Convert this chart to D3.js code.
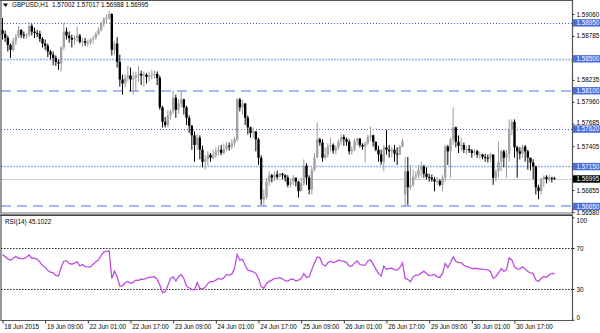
<!DOCTYPE html>
<html><head><meta charset="utf-8">
<script src="https://cdn.jsdelivr.net/npm/d3@7"></script>
<style>body{margin:0;background:#fff}svg{display:block}text{font-family:"Liberation Sans",Arial,sans-serif}</style>
</head><body><svg id="c" width="600" height="333"></svg>
<script>
const opens=[1.5886,
1.5881,1.5876,1.5867,1.5861,1.5872,1.5877,1.5886,1.5880,1.5879,1.5880,
1.5891,1.5884,1.5882,1.5881,1.5875,1.5869,1.5866,1.5859,1.5855,1.5851,
1.5846,1.5844,1.5864,1.5884,1.5879,1.5876,1.5874,1.5876,1.5879,1.5871,
1.5872,1.5870,1.5870,1.5874,1.5876,1.5881,1.5886,1.5894,1.5900,1.5901,
1.5906,1.5861,1.5869,1.5846,1.5824,1.5819,1.5826,1.5829,1.5824,1.5826,
1.5829,1.5831,1.5829,1.5830,1.5827,1.5829,1.5830,1.5831,1.5826,1.5789,
1.5771,1.5767,1.5779,1.5784,1.5801,1.5786,1.5794,1.5799,1.5789,1.5776,
1.5766,1.5754,1.5742,1.5751,1.5736,1.5721,1.5724,1.5730,1.5726,1.5729,
1.5734,1.5736,1.5732,1.5737,1.5741,1.5740,1.5744,1.5749,1.5799,1.5789,
1.5794,1.5776,1.5764,1.5757,1.5759,1.5749,1.5726,1.5674,1.5677,1.5696,
1.5704,1.5701,1.5705,1.5702,1.5706,1.5704,1.5701,1.5692,1.5696,1.5701,
1.5696,1.5684,1.5694,1.5716,1.5701,1.5686,1.5711,1.5726,1.5749,1.5745,
1.5726,1.5730,1.5740,1.5742,1.5735,1.5739,1.5746,1.5752,1.5749,1.5746,
1.5734,1.5736,1.5747,1.5750,1.5742,1.5740,1.5744,1.5752,1.5754,1.5746,
1.5736,1.5730,1.5721,1.5739,1.5736,1.5734,1.5736,1.5731,1.5730,1.5740,
1.5680,
1.5709,1.5689,1.5692,1.5702,1.5704,1.5711,1.5715,1.5706,1.5702,1.5701,
1.5699,1.5696,1.5697,1.5692,1.5701,1.5740,1.5734,1.5749,1.5764,1.5746,
1.5741,1.5742,1.5736,1.5737,1.5735,1.5732,1.5734,1.5730,1.5730,1.5727,
1.5726,1.5725,1.5730,1.5701,1.5709,1.5721,1.5734,1.5726,1.5731,1.5761,
1.5771,1.5739,1.5734,1.5731,1.5740,1.5734,1.5726,1.5720,1.5715,1.5689,
1.5684,1.5699,1.5702,1.5699,1.5701,
1.57002];
const highs=[
1.5901,1.5885,1.5879,1.5869,1.5876,1.5881,1.5891,1.5887,1.5884,1.5882,
1.5896,1.5894,1.5889,1.5886,1.5885,1.5877,1.5874,1.5869,1.5861,1.5859,
1.5854,1.5849,1.5866,1.5895,1.5889,1.5884,1.5880,1.5879,1.5890,1.5881,
1.5876,1.5876,1.5874,1.5876,1.5879,1.5884,1.5889,1.5896,1.5902,1.5906,
1.5910,1.5907,1.5872,1.5877,1.5855,1.5830,1.5830,1.5841,1.5839,1.5834,
1.5834,1.5841,1.5835,1.5834,1.5832,1.5834,1.5836,1.5835,1.5834,1.5829,
1.5791,1.5777,1.5786,1.5786,1.5811,1.5805,1.5799,1.5809,1.5800,1.5791,
1.5779,1.5767,1.5759,1.5756,1.5754,1.5741,1.5729,1.5734,1.5732,1.5736,
1.5739,1.5741,1.5742,1.5744,1.5746,1.5745,1.5749,1.5752,1.5801,1.5801,
1.5799,1.5794,1.5779,1.5765,1.5764,1.5759,1.5751,1.5729,1.5686,1.5701,
1.5709,1.5706,1.5709,1.5710,1.5707,1.5707,1.5705,1.5704,1.5700,1.5704,
1.5701,1.5697,1.5701,1.5724,1.5719,1.5704,1.5714,1.5732,1.5770,1.5751,
1.5749,1.5739,1.5744,1.5751,1.5744,1.5741,1.5749,1.5756,1.5755,1.5751,
1.5749,1.5740,1.5750,1.5751,1.5750,1.5744,1.5746,1.5755,1.5765,1.5755,
1.5746,1.5741,1.5736,1.5742,1.5761,1.5742,1.5740,1.5742,1.5739,1.5742,
1.5750,1.5727,1.5727,1.5717,1.5711,1.5709,1.5717,1.5721,1.5717,1.5714,
1.5706,1.5705,1.5702,1.5702,1.5699,1.5704,1.5742,1.5742,1.5751,1.5789,
1.5765,1.5754,1.5751,1.5745,1.5741,1.5742,1.5737,1.5737,1.5736,1.5734,
1.5731,1.5731,1.5730,1.5732,1.5730,1.5711,1.5746,1.5736,1.5736,1.5736,
1.5774,1.5774,1.5774,1.5741,1.5739,1.5742,1.5742,1.5736,1.5726,1.5724,
1.5716,1.5692,1.5701,1.5704,1.5704,1.5704,1.5702,1.57017];
const lows=[
1.5874,1.5871,1.5859,1.5851,1.5859,1.5867,1.5876,1.5876,1.5875,1.5875,
1.5877,1.5879,1.5876,1.5877,1.5871,1.5864,1.5861,1.5852,1.5849,1.5842,
1.5841,1.5836,1.5834,1.5861,1.5874,1.5870,1.5864,1.5867,1.5871,1.5869,
1.5865,1.5866,1.5865,1.5867,1.5869,1.5874,1.5879,1.5884,1.5890,1.5894,
1.5899,1.5854,1.5855,1.5839,1.5815,1.5805,1.5814,1.5821,1.5809,1.5805,
1.5809,1.5821,1.5817,1.5815,1.5819,1.5821,1.5824,1.5825,1.5817,1.5786,
1.5764,1.5764,1.5764,1.5774,1.5781,1.5776,1.5781,1.5789,1.5780,1.5767,
1.5757,1.5736,1.5721,1.5736,1.5724,1.5714,1.5711,1.5716,1.5721,1.5724,
1.5726,1.5729,1.5729,1.5730,1.5734,1.5735,1.5737,1.5740,1.5746,1.5784,
1.5780,1.5767,1.5755,1.5751,1.5751,1.5734,1.5717,1.5667,1.5666,1.5674,
1.5691,1.5695,1.5697,1.5699,1.5701,1.5699,1.5696,1.5689,1.5689,1.5692,
1.5690,1.5676,1.5684,1.5691,1.5692,1.5680,1.5680,1.5709,1.5726,1.5741,
1.5721,1.5724,1.5726,1.5734,1.5731,1.5730,1.5736,1.5742,1.5741,1.5741,
1.5730,1.5730,1.5734,1.5741,1.5739,1.5736,1.5720,1.5742,1.5747,1.5740,
1.5734,1.5721,1.5717,1.5709,1.5730,1.5726,1.5726,1.5721,1.5717,1.5729,
1.5739,1.5665,1.5667,1.5686,1.5690,1.5699,1.5700,1.5701,1.5701,1.5699,
1.5696,1.5696,1.5684,1.5692,1.5690,1.5684,1.5696,1.5717,1.5701,1.5742,
1.5739,1.5732,1.5734,1.5732,1.5730,1.5732,1.5726,1.5729,1.5726,1.5724,
1.5724,1.5721,1.5720,1.5721,1.5692,1.5696,1.5701,1.5709,1.5714,1.5701,
1.5721,1.5754,1.5726,1.5701,1.5724,1.5726,1.5721,1.5711,1.5710,1.5699,
1.5680,1.5674,1.5680,1.5689,1.5694,1.5696,1.5695,1.56988];
const closes=[
1.5881,1.5876,1.5867,1.5861,1.5872,1.5877,1.5886,1.5880,1.5879,1.5880,
1.5891,1.5884,1.5882,1.5881,1.5875,1.5869,1.5866,1.5859,1.5855,1.5851,
1.5846,1.5844,1.5864,1.5884,1.5879,1.5876,1.5874,1.5876,1.5879,1.5871,
1.5872,1.5870,1.5870,1.5874,1.5876,1.5881,1.5886,1.5894,1.5900,1.5901,
1.5906,1.5861,1.5869,1.5846,1.5824,1.5819,1.5826,1.5829,1.5824,1.5826,
1.5829,1.5831,1.5829,1.5830,1.5827,1.5829,1.5830,1.5831,1.5826,1.5789,
1.5771,1.5767,1.5779,1.5784,1.5801,1.5786,1.5794,1.5799,1.5789,1.5776,
1.5766,1.5754,1.5742,1.5751,1.5736,1.5721,1.5724,1.5730,1.5726,1.5729,
1.5734,1.5736,1.5732,1.5737,1.5741,1.5740,1.5744,1.5749,1.5799,1.5789,
1.5794,1.5776,1.5764,1.5757,1.5759,1.5749,1.5726,1.5674,1.5677,1.5696,
1.5704,1.5701,1.5705,1.5702,1.5706,1.5704,1.5701,1.5692,1.5696,1.5701,
1.5696,1.5684,1.5694,1.5716,1.5701,1.5686,1.5711,1.5726,1.5749,1.5745,
1.5726,1.5730,1.5740,1.5742,1.5735,1.5739,1.5746,1.5752,1.5749,1.5746,
1.5734,1.5736,1.5747,1.5750,1.5742,1.5740,1.5744,1.5752,1.5754,1.5746,
1.5736,1.5730,1.5721,1.5739,1.5736,1.5734,1.5736,1.5731,1.5730,1.5740,
1.5747,1.5709,1.5689,1.5692,1.5702,1.5704,1.5711,1.5715,1.5706,1.5702,
1.5701,1.5699,1.5696,1.5697,1.5692,1.5701,1.5740,1.5734,1.5749,1.5764,
1.5746,1.5741,1.5742,1.5736,1.5737,1.5735,1.5732,1.5734,1.5730,1.5730,
1.5727,1.5726,1.5725,1.5730,1.5701,1.5709,1.5721,1.5734,1.5726,1.5731,
1.5761,1.5771,1.5739,1.5734,1.5731,1.5740,1.5734,1.5726,1.5720,1.5715,
1.5689,1.5684,1.5699,1.5702,1.5699,1.5701,1.57002,1.56995];
const rsi=[
63.6,61.6,59.4,58.1,60.0,61.6,60.0,59.7,59.7,61.0,
63.2,60.0,60.0,59.0,56.5,52.9,51.3,48.0,46.5,45.8,
43.2,42.6,51.6,57.1,57.7,54.9,54.2,55.2,56.5,52.6,
53.9,51.9,51.6,51.6,54.2,56.5,58.4,62.9,66.1,66.8,
67.1,40.3,47.4,41.9,32.9,32.9,36.1,37.4,35.5,36.5,
38.7,38.4,39.7,39.4,40.6,41.3,41.6,41.9,39.4,33.9,
26.4,27.4,33.5,40.3,41.9,37.7,41.9,43.9,40.3,32.9,
31.0,29.7,29.0,36.1,30.6,30.0,31.6,35.5,37.1,37.1,
38.7,40.3,39.4,41.0,44.2,43.5,44.5,50.0,63.6,58.1,
59.0,53.2,48.4,47.7,46.8,45.2,40.3,32.3,30.6,35.5,
37.4,38.7,40.3,40.6,41.0,39.7,38.1,37.7,39.4,39.7,
37.7,38.7,40.3,45.2,41.3,41.9,49.0,55.5,61.3,60.6,
54.2,52.3,55.5,57.1,55.8,56.5,58.1,57.4,57.1,55.8,
52.3,52.3,55.5,57.4,53.9,53.2,53.2,57.4,58.4,54.2,
49.4,45.2,42.6,52.3,49.0,50.0,50.3,49.0,48.4,51.0,
55.5,40.3,39.4,37.1,41.9,43.5,43.5,45.5,47.4,45.2,
43.2,43.5,44.2,41.9,41.3,45.2,54.9,51.0,55.5,61.3,
57.1,55.8,55.8,53.2,51.9,51.0,50.0,50.0,50.0,49.4,
49.4,49.0,48.7,46.8,40.6,41.9,45.8,50.0,47.4,48.7,
60.3,58.4,51.6,49.7,49.4,51.6,49.4,47.1,45.8,45.2,
38.7,37.4,40.3,42.3,41.3,43.9,45.2,45.1022];
const timeLabels=["18 Jun 2015","19 Jun 09:00","22 Jun 01:00","22 Jun 17:00","23 Jun 09:00","24 Jun 01:00","24 Jun 17:00","25 Jun 09:00","26 Jun 01:00","26 Jun 17:00","29 Jun 09:00","30 Jun 01:00","30 Jun 17:00"];
const labelEvery=16;
const priceTicks=[1.59060,1.58785,1.58235,1.57960,1.57685,1.57405,1.56855,1.56580];
const levelsDotted=[1.58950,1.57620];
const levelsDottedLight=[1.58500,1.57150];
const levelsDashed=[1.58100,1.56650];
const lastPrice=1.56995;
const rsiLevels=[70,30];
const rsiTicks=[100,70,30,0];
const headerText="GBPUSD,H1  1.57002 1.57017 1.56988 1.56995";
const rsiText="RSI(14) 45.1022";

const svg=d3.select("#c");
const n=closes.length;
const x=d3.scaleLinear().domain([0,n-1]).range([2.5,2.5+(n-1)*2.6667]);
const y=d3.scaleLinear().domain([1.5658,1.5906]).range([212,14]);
const yr=d3.scaleLinear().domain([0,100]).range([319.75,217.25]);
const R=572.5;
const FS=6.3;

svg.append("rect").attr("width",600).attr("height",333).attr("fill","#fff");

// level lines
const lv=svg.append("g");
lv.selectAll(".d1").data(levelsDotted).join("line").attr("x1",1).attr("x2",R)
 .attr("y1",d=>Math.round(y(d))+0.5).attr("y2",d=>Math.round(y(d))+0.5)
 .attr("stroke","#3d5ce8").attr("stroke-width",1).attr("stroke-dasharray","1,2");
lv.selectAll(".d2").data(levelsDottedLight).join("line").attr("x1",1).attr("x2",R)
 .attr("y1",d=>Math.round(y(d))+0.5).attr("y2",d=>Math.round(y(d))+0.5)
 .attr("stroke","#9fb4f2").attr("stroke-width",1.6).attr("stroke-dasharray","2,1");
lv.selectAll(".d3").data(levelsDashed).join("line").attr("x1",1).attr("x2",R)
 .attr("y1",d=>Math.round(y(d))).attr("y2",d=>Math.round(y(d)))
 .attr("stroke","#a2b9f4").attr("stroke-width",2).attr("stroke-dasharray","10,6");
lv.append("line").attr("x1",1).attr("x2",R).attr("y1",Math.round(y(lastPrice))+0.5).attr("y2",Math.round(y(lastPrice))+0.5)
 .attr("stroke","#cfcfcf").attr("stroke-width",1);

// candles
const idx=d3.range(n);
const up=i=>closes[i]>=opens[i];
const cg=svg.append("g");
cg.selectAll("line").data(idx).join("line")
 .attr("x1",i=>x(i)).attr("x2",i=>x(i))
 .attr("y1",i=>y(highs[i])).attr("y2",i=>y(lows[i]))
 .attr("stroke",i=>up(i)?"#9c9c9c":"#000").attr("stroke-width",1);
cg.selectAll("rect").data(idx).join("rect")
 .attr("x",i=>x(i)-1.2).attr("width",2.4)
 .attr("y",i=>y(Math.max(opens[i],closes[i])))
 .attr("height",i=>Math.max(1,Math.abs(y(opens[i])-y(closes[i]))))
 .attr("fill",i=>up(i)?"#a4a4a4":"#000");

// header
svg.append("path").attr("d","M3,3.5 L8,3.5 L5.5,7 Z").attr("fill","#000");
svg.append("text").attr("x",12).attr("y",7.3).attr("font-size",FS).attr("fill","#000").attr("xml:space","preserve").text(headerText);

// frames
svg.append("line").attr("x1",1).attr("x2",1).attr("y1",0).attr("y2",321).attr("stroke","#555").attr("stroke-width",1.2);
svg.append("line").attr("x1",R).attr("x2",R).attr("y1",0).attr("y2",321).attr("stroke","#555").attr("stroke-width",1.2);
svg.append("line").attr("x1",0).attr("x2",R).attr("y1",0.5).attr("y2",0.5).attr("stroke","#555");
svg.append("rect").attr("x",0).attr("y",213).attr("width",R).attr("height",3).attr("fill","#c8c8c8");
svg.append("line").attr("x1",0).attr("x2",R).attr("y1",212.8).attr("y2",212.8).attr("stroke","#888").attr("stroke-width",0.8);
svg.append("line").attr("x1",0).attr("x2",R).attr("y1",215.2).attr("y2",215.2).attr("stroke","#444").attr("stroke-width",1.5);
svg.append("line").attr("x1",1).attr("x2",R).attr("y1",320.5).attr("y2",320.5).attr("stroke","#555");

// price axis
const pa=svg.append("g").attr("transform",`translate(${R},0)`)
 .call(d3.axisRight(y).tickValues(priceTicks).tickSize(2).tickPadding(2).tickFormat(d3.format(".5f")));
pa.select(".domain").remove();
pa.selectAll("text").attr("font-size",FS).attr("fill","#000").attr("font-family","Liberation Sans, Arial, sans-serif")
 .attr("dy",d=>d===1.57685?"0.05em":"0.32em");
pa.selectAll("line").attr("stroke","#333");

// level labels
const allLv=[...levelsDotted,...levelsDottedLight,...levelsDashed];
const lg=svg.append("g");
lg.selectAll("rect").data(allLv).join("rect").attr("x",R+0.5).attr("y",d=>y(d)-3.6).attr("width",27).attr("height",7.4).attr("fill","#4a6ee2");
lg.selectAll("text").data(allLv).join("text").attr("x",R+4).attr("y",d=>y(d)+2.3).attr("font-size",FS).attr("fill","#fff").text(d=>d3.format(".5f")(d));
lg.append("rect").attr("x",R+0.5).attr("y",y(lastPrice)-3.6).attr("width",27).attr("height",7.4).attr("fill","#000");
lg.append("text").attr("x",R+4).attr("y",y(lastPrice)+2.3).attr("font-size",FS).attr("fill","#fff").text(d3.format(".5f")(lastPrice));

// RSI panel
svg.append("text").attr("x",5).attr("y",224).attr("font-size",FS).attr("fill","#000").text(rsiText);
svg.selectAll(".rl").data(rsiLevels).join("line").attr("x1",1).attr("x2",R)
 .attr("y1",d=>Math.round(yr(d))+0.5).attr("y2",d=>Math.round(yr(d))+0.5)
 .attr("stroke","#333").attr("stroke-dasharray","1.6,1.4");
svg.append("path").datum(rsi).attr("fill","none").attr("stroke","#bd4ee0").attr("stroke-width",1.3)
 .attr("d",d3.line().x((d,i)=>x(i)).y(d=>yr(d)));
const ra=svg.append("g").attr("transform",`translate(${R},0)`)
 .call(d3.axisRight(yr).tickValues(rsiTicks).tickSize(2).tickPadding(2).tickFormat(d3.format("d")));
ra.select(".domain").remove();
ra.selectAll("text").attr("font-size",FS).attr("fill","#000").attr("font-family","Liberation Sans, Arial, sans-serif")
 .attr("dy",d=>d===100?"0.9em":d===0?"-0.1em":"0.32em");
ra.selectAll("line").attr("stroke","#333");

// time axis
const ta=svg.append("g").attr("transform","translate(0,320.5)")
 .call(d3.axisBottom(x).tickValues(d3.range(0,n,labelEvery)).tickSize(3).tickPadding(1).tickFormat((d,i)=>timeLabels[i]));
ta.select(".domain").remove();
ta.selectAll("text").attr("font-size",FS).attr("fill","#000").attr("text-anchor","start").attr("dx","0.2em").attr("font-family","Liberation Sans, Arial, sans-serif");
ta.selectAll("line").attr("stroke","#333");
</script></body></html>
